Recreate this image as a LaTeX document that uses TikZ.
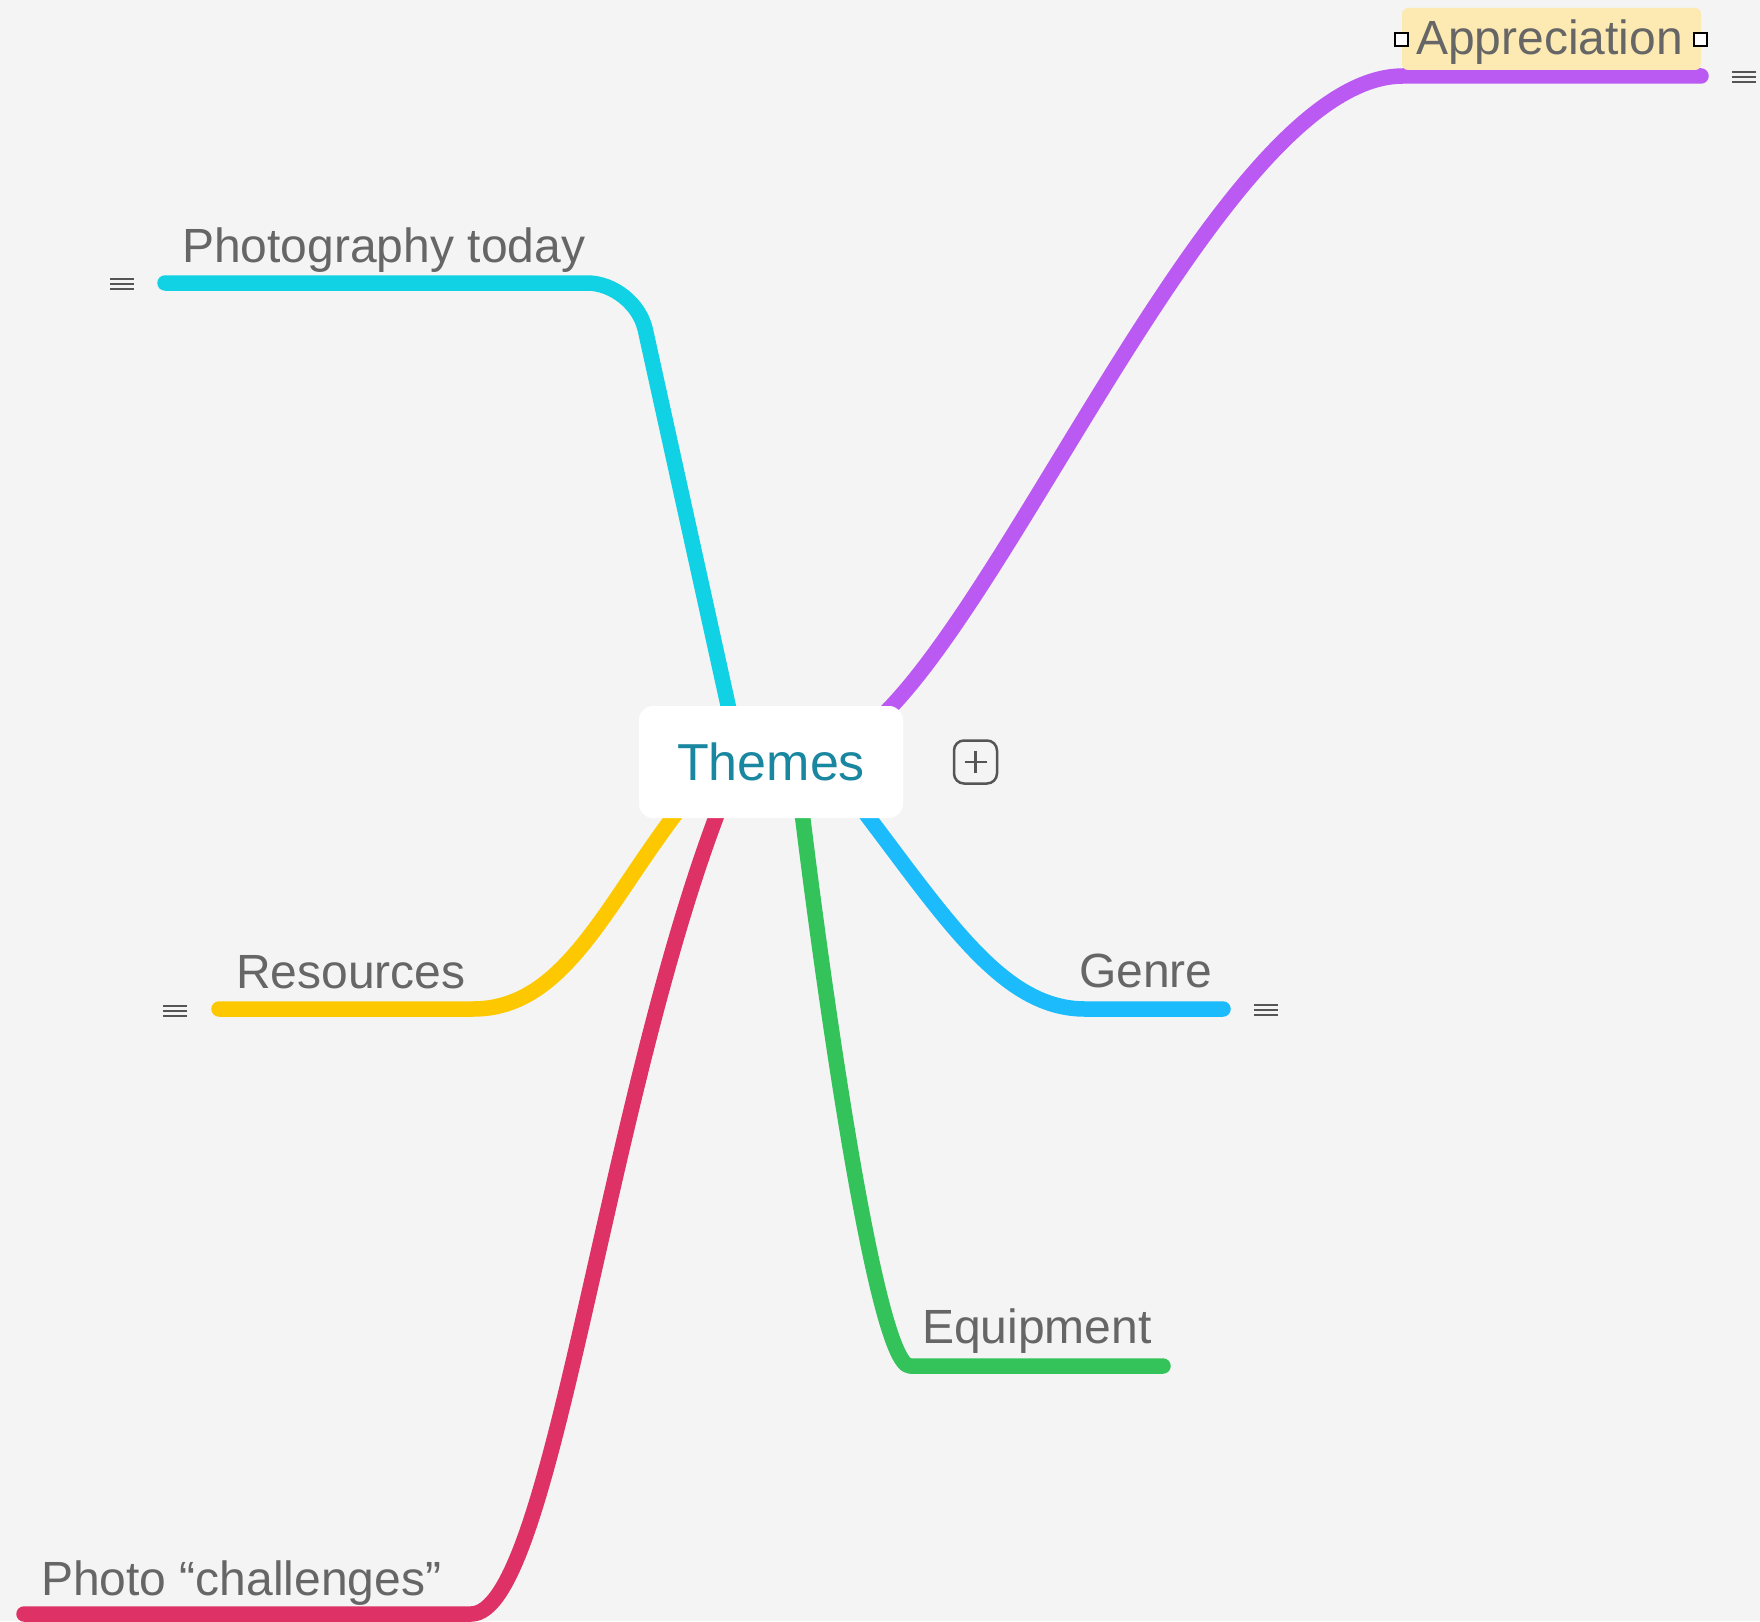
\documentclass[tikz,border=0pt]{standalone}
\usepackage{fontspec}
\setmainfont{Liberation Sans}
\pgfdeclarelayer{bg}
\pgfdeclarelayer{branches}
\pgfsetlayers{bg,branches,main}
\definecolor{bgc}{HTML}{F4F4F4}
\definecolor{labelgray}{HTML}{666666}
\definecolor{themec}{HTML}{1A87A0}
\definecolor{cyanb}{HTML}{10D2E4}
\definecolor{purpleb}{HTML}{BB5AF3}
\definecolor{yellowb}{HTML}{FDC800}
\definecolor{redb}{HTML}{DE3166}
\definecolor{greenb}{HTML}{34C35A}
\definecolor{blueb}{HTML}{1CBBFC}
\definecolor{hlc}{HTML}{FDEAB2}
\definecolor{icong}{HTML}{555555}
\begin{document}
\begin{tikzpicture}[x=1pt,y=-1pt,
  branch/.style={line width=15.5pt, line cap=round, line join=round},
  lbl/.style={anchor=base west, inner sep=0pt, text=labelgray, font=\fontsize{48}{56}\selectfont},
  central/.style={rectangle, rounded corners=14pt, fill=white, minimum width=264pt, minimum height=112pt, inner sep=0pt, text=themec, font=\fontsize{52}{60}\selectfont},
  expandbox/.style={rectangle, rounded corners=10pt, draw=icong, line width=2.5pt, minimum size=43pt, inner sep=0pt},
  handle/.style={rectangle, draw=black, fill=white, line width=2pt, minimum size=13pt, inner sep=0pt},
  menuline/.style={draw=icong, line width=2.6pt},
  menuicon/.pic={\draw[menuline] (-12,-5) -- (12,-5); \draw[menuline] (-12,0) -- (12,0); \draw[menuline] (-12,5) -- (12,5);}
]
\useasboundingbox (0,0) rectangle (1760,1621);
\begin{pgfonlayer}{bg}
  \fill[bgc] (0,0) rectangle (1760,1621);
\end{pgfonlayer}

% central topic
\node[central] (themes) at (771,762) {Themes};
\node[expandbox] (expand) at (975.5,762) {};
\draw[icong, line width=2.5pt] ([xshift=-11pt]expand.center) -- ([xshift=11pt]expand.center);
\draw[icong, line width=2.5pt] ([yshift=-11pt]expand.center) -- ([yshift=11pt]expand.center);

% branch start points (inside the central topic)
\coordinate (puS) at (884,714);
\coordinate (cyS) at (730,714);
\coordinate (ylS) at (677,812);
\coordinate (rdS) at (718,812);
\coordinate (grS) at (802,812);
\coordinate (blS) at (866,814);

% branch corners and free ends
\coordinate (apCorner) at (1403,76);  \coordinate (apEnd) at (1701,76);
\coordinate (phCorner) at (635,283);  \coordinate (phEnd) at (165,283);
\coordinate (rsCorner) at (473,1009); \coordinate (rsEnd) at (219,1009);
\coordinate (pcCorner) at (471,1614); \coordinate (pcEnd) at (24,1614);
\coordinate (eqCorner) at (910,1366); \coordinate (eqEnd) at (1163,1366);
\coordinate (gnCorner) at (1085,1009); \coordinate (gnEnd) at (1223,1009);

\begin{pgfonlayer}{branches}
  \draw[branch, purpleb] (puS) .. controls (1026,573) and (1230,76) .. (apCorner) -- (apEnd);
  \draw[branch, cyanb, rounded corners=48pt] (cyS) -- (phCorner) -- (phEnd);
  \draw[branch, yellowb] (ylS) .. controls (604,908) and (563,1009) .. (rsCorner) -- (rsEnd);
  \draw[branch, redb] (rdS) .. controls (603,1115) and (551,1614) .. (pcCorner) -- (pcEnd);
  \draw[branch, greenb] (grS) .. controls (820,960) and (875,1366) .. (eqCorner) -- (eqEnd);
  \draw[branch, blueb] (blS) .. controls (950,925) and (1005,1009) .. (gnCorner) -- (gnEnd);
\end{pgfonlayer}

% Appreciation (selected topic)
\fill[hlc, rounded corners=6pt] (1402,8) rectangle (1701,70);
\node[lbl] (appreciation) at (1416,55) {Appreciation};
\node[handle] (hL) at (1401.5,39.5) {};
\node[handle] (hR) at (1700.5,39.5) {};

% other labels
\node[lbl] (phototoday) at (182,262) {Photography today};
\node[lbl] (resources) at (236,988) {Resources};
\node[lbl] (genre) at (1079,987) {Genre};
\node[lbl] (equipment) at (922,1343) {Equipment};
\node[lbl] (challenges) at (41,1595) {Photo “challenges”};

% note icons
\pic at (1744,77) {menuicon};
\pic at (122,284) {menuicon};
\pic at (175,1011) {menuicon};
\pic at (1266,1010) {menuicon};
\end{tikzpicture}
\end{document}
